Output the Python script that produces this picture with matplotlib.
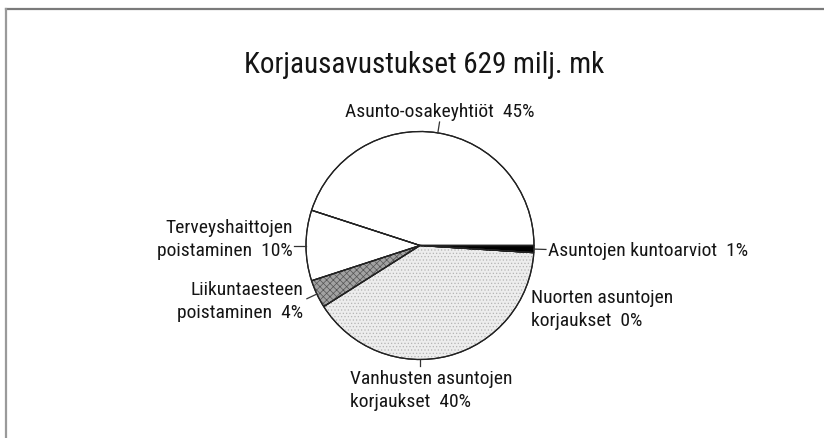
import numpy as np
import matplotlib
matplotlib.use('Agg')
import matplotlib.pyplot as plt
from matplotlib.patches import Wedge

# Data
title = 'Korjausavustukset 629 milj. mk'
labels = ['Asunto-osakeyhtiöt  45%',
          'Terveyshaittojen\npoistaminen  10%',
          'Liikuntaesteen\npoistaminen  4%',
          'Vanhusten asuntojen\nkorjaukset  40%',
          'Nuorten asuntojen\nkorjaukset  0%',
          'Asuntojen kuntoarviot  1%']
shares = [45, 10, 4, 40, 0, 1]

colors = ['white', 'white', '#a2a2a2', '#ededed', '#ededed', 'black']
hatches = [None, None, 'xxxxx', '.....', None, None]
hatch_colors = [None, None, '#555555', '#b5b5b5', None, None]

# Layout in pixel units (image coords, y measured from top)
W, H = 824, 439
cx, cy, R = 420, 246.5, 114

# label placement: (x, first baseline, ha)
text_pos = [(440, 117, 'center'),
            (293, 233, 'right'),
            (303, 295, 'right'),
            (350, 384, 'left'),
            (531, 303, 'left'),
            (548, 256, 'left')]
line_gap = 23.5
# leader lines: angle on the circle (None = wedge middle), length
leader_angle = [None, None, None, 270, None, None]
leader_len = [11, 12, 11, 6, 0, 12]

plt.rcParams['font.family'] = ['Roboto Condensed', 'Archivo Narrow',
                               'Liberation Sans', 'DejaVu Sans']
plt.rcParams['hatch.linewidth'] = 0.5

fig = plt.figure(figsize=(W / 100, H / 100), dpi=100)
ax = fig.add_axes([0, 0, 1, 1])
ax.set_xlim(0, W)
ax.set_ylim(0, H)
ax.set_aspect('equal')
ax.axis('off')

wedges, _ = ax.pie(shares, colors=colors, startangle=0, counterclock=True,
                   center=(cx, H - cy), radius=R,
                   wedgeprops=dict(edgecolor='#222222', linewidth=0.9))
ax.set_xlim(0, W)
ax.set_ylim(0, H)

# stipple textures on top of the filled wedges
for w, h, hc in zip(wedges, hatches, hatch_colors):
    if h is None:
        continue
    ax.add_patch(Wedge(w.center, w.r, w.theta1, w.theta2, fill=False,
                       edgecolor=hc, lw=0, hatch=h, zorder=w.get_zorder()))
    w.set_zorder(w.get_zorder() - 0.1)
# redraw outlines above the texture
for w in wedges:
    ax.add_patch(Wedge(w.center, w.r, w.theta1, w.theta2, fill=False,
                       edgecolor='#222222', lw=0.9, zorder=w.get_zorder() + 0.2))

# wedge mid angles for leaders
cum = np.cumsum([0] + shares) / sum(shares) * 360
mids = (cum[:-1] + cum[1:]) / 2
for i in range(len(labels)):
    if leader_len[i] == 0:
        continue
    a = leader_angle[i] if leader_angle[i] is not None else mids[i]
    r = np.deg2rad(a)
    x0, y0 = cx + R * np.cos(r), (H - cy) + R * np.sin(r)
    x1, y1 = cx + (R + leader_len[i]) * np.cos(r), (H - cy) + (R + leader_len[i]) * np.sin(r)
    ax.plot([x0, x1], [y0, y1], color='#333333', lw=0.9)

for lab, (x, y, ha) in zip(labels, text_pos):
    for j, line in enumerate(lab.split('\n')):
        ax.text(x, H - (y + j * line_gap), line, ha=ha, va='baseline',
                fontsize=14, color='#151515')

ax.text(424, H - 73, title, ha='center', va='baseline', fontsize=21,
        color='#151515')

# frame (only top and left edges visible)
ax.plot([6, W], [H - 9.5, H - 9.5], color='#7a7a7a', lw=1.6)
ax.plot([6, 6], [H - 9.5, 0], color='#9a9a9a', lw=1.6)

fig.savefig('out.png', dpi=100, facecolor='white')
